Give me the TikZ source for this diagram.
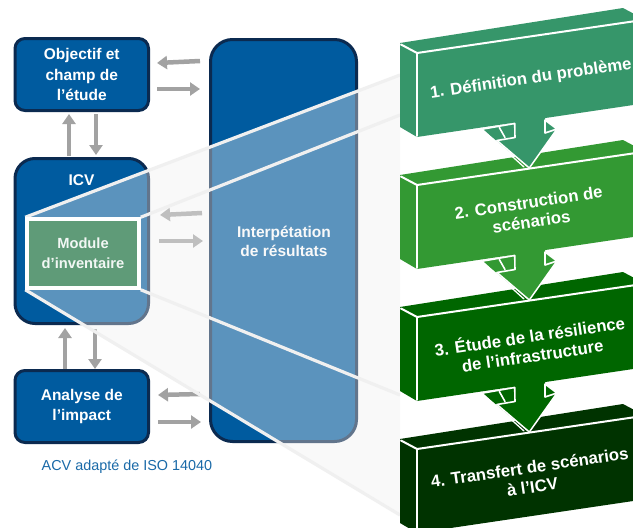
\documentclass[tikz,border=0pt]{standalone}
\usepackage{fontspec}
\setmainfont{Liberation Sans}
\usetikzlibrary{arrows.meta}
\definecolor{boxblue}{HTML}{005B9F}
\definecolor{boxnavy}{HTML}{0B2A50}
\definecolor{arrowgrey}{HTML}{A2A2A2}
\definecolor{modgreen}{HTML}{5F9B78}
\definecolor{linegrey}{HTML}{F0F0F0}
\definecolor{capblue}{HTML}{1A6AA8}
\definecolor{blockA}{HTML}{36966A}
\definecolor{blockB}{HTML}{339933}
\definecolor{blockC}{HTML}{006600}
\definecolor{blockD}{HTML}{003300}
\tikzset{
  phase/.style={draw=boxnavy,line width=3pt,fill=boxblue,text=white,align=center,inner sep=0pt,
    font=\bfseries\fontsize{15.5}{20.5}\selectfont},
  flowarrow/.style={draw=arrowgrey,line width=4.5pt,-{Triangle[length=10pt,width=13pt]}},
  zoomline/.style={draw=linegrey,line width=3.2pt},
  blocktext/.style={text=white,align=center,rotate=8.3,inner sep=0pt,
    font=\bfseries\fontsize{16.8}{19.5}\selectfont},
  edge/.style={draw=white,line width=2pt,line cap=round,line join=round},
}
\newcommand{\blockbody}[2]{%
  \begin{scope}[shift={(0,#1)}]
    \fill[#2] (400,43) -- (623,8) -- (640,17) -- (640,104) -- (515,122.5) -- (417,137) -- (400,127) -- cycle;
    \draw[edge] (401,44.5) -- (417,53) -- (640,20.4);
    \draw[edge] (417,53) -- (417,136);
  \end{scope}}
\newcommand{\blockarrow}[2]{%
  \begin{scope}[shift={(0,#1)}]
    \fill[#2] (515,120) -- (545,116) -- (545,120) -- (557,129) -- (529.3,168) -- (482,129) -- (515,123) -- cycle;
    \draw[edge,line width=1.6pt] (482,129.2) -- (514.7,123.5) -- (515,137.5) -- (497,140.5);
    \draw[edge,line width=1.6pt] (499.3,127.5) -- (505,137.5);
    \draw[edge,line width=1.3pt] (482,129.2) -- (524,167);
    \draw[edge,line width=1.5pt] (497,140.5) -- (529.3,168) -- (557,129);
    \draw[edge,line width=1.6pt] (545,120) -- (557,129) -- (545,133) -- cycle;
  \end{scope}}
\begin{document}
\begin{tikzpicture}[x=1pt,y=-1pt]
\useasboundingbox (0,0) rectangle (633,528);
\clip (0,0) rectangle (633,528);
\fill[white] (0,0) rectangle (633,528);

\node[phase,rounded corners=10pt,minimum width=133.5pt,minimum height=72pt] (goal) at (81.75,74.5) {Objectif et\\champ de\\l’étude};
\node[phase,rounded corners=20pt,minimum width=133.5pt,minimum height=165pt] (icv) at (81.75,241) {};
\node[text=white,font=\bfseries\fontsize{15.5}{20}\selectfont,inner sep=0pt] (icvlabel) at (81.5,180) {ICV};
\node[phase,rounded corners=10pt,minimum width=133.5pt,minimum height=72pt] (impact) at (81.75,406.5) {Analyse de\\l’impact};
\node[phase,rounded corners=22pt,minimum width=146pt,minimum height=402pt] (interp) at (283.5,240.5) {};
\node[text=white,align=center,inner sep=0pt,font=\bfseries\fontsize{15.5}{19.5}\selectfont] (interplabel) at (284,241.5) {Interpétation\\de résultats};
\node[inner sep=0pt,text=capblue,font=\fontsize{14.4}{16}\selectfont] (caption) at (127,467) {ACV adapté de ISO 14040};

% grey flow arrows
\foreach \nm/\xa/\ya/\xb/\yb in {a/200/61/157/63, b/157/89/200/89, c/69/156/69/114, d/96/114/96/155,
  e/202/213/160/215, f/159/241/203/241, g/65/369/65/328, h/95/329/95/369,
  i/200/394/158/395, j/158/422/201/422}{
  \coordinate (\nm0) at (\xa,\ya);
  \coordinate (\nm1) at (\xb,\yb);
  \draw[flowarrow] (\nm0) -- (\nm1);
}

% zoom funnel
\coordinate (funA) at (400,75);
\coordinate (funB) at (400,115);
\coordinate (funC) at (400,395);
\coordinate (funD) at (400,515);
\node[draw=white,line width=3.5pt,fill=modgreen,minimum width=112pt,minimum height=69pt,inner sep=0pt] (module) at (83,253.5) {};
\fill[linegrey,opacity=.38] (module.north west) -- (funA) -- (funD) -- (module.south west) -- cycle;
\draw[zoomline] (module.north west) -- (funA);
\draw[zoomline] (module.north east) -- (funB);
\draw[zoomline] (module.south east) -- (funC);
\draw[zoomline] (module.south west) -- (funD);
\node[draw=white,line width=3.5pt,fill=modgreen,text=white!92!modgreen,align=center,minimum width=112pt,minimum height=69pt,inner sep=0pt,
  font=\bfseries\fontsize{14.7}{20}\selectfont] (modulefront) at (83,253.5) {Module\\d’inventaire};

% stepped blocks, bottom first
\blockbody{396}{blockD}
\blockarrow{264}{blockC}
\blockbody{264}{blockC}
\blockarrow{132}{blockB}
\blockbody{132}{blockB}
\blockarrow{0}{blockA}
\blockbody{0}{blockA}

\node[blocktext] (s1) at (531,79) {1. Définition du problème};
\node[blocktext] (s2) at (530,212) {2. Construction de\\scénarios};
\node[blocktext] (s3) at (531,345) {3. Étude de la résilience\\de l’infrastructure};
\node[blocktext] (s4) at (531,477) {4. Transfert de scénarios\\à l'ICV};
\end{tikzpicture}
\end{document}
